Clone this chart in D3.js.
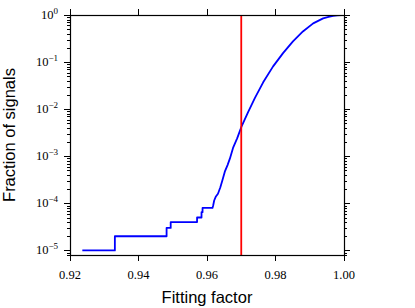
<!DOCTYPE html>
<html>
<head>
  <meta charset="UTF-8">
  <title>Fitting factor</title>
  <script src="https://cdn.jsdelivr.net/npm/d3@7"></script>
  <style>
    body { margin: 0; background: #fff; }
    .tick-label { font-family: "Liberation Serif", "DejaVu Serif", serif; }
    .axis-label { font-family: "Liberation Sans", Arial, sans-serif; font-size: 16.5px; }
  </style>
</head>
<body>
<div id="chart"></div>
<script>
// cumulative fraction of signals vs fitting factor
var fitFactor = [0.9236, 0.9331, 0.9331, 0.9482, 0.9482, 0.9494, 0.9494, 0.9571, 0.9571,
  0.9584, 0.9584, 0.9587, 0.9587, 0.9616, 0.9618, 0.9621, 0.9626, 0.9632, 0.9639, 0.9645,
  0.9652, 0.9660, 0.9667, 0.9676, 0.9688, 0.9701, 0.9720, 0.9740, 0.9764, 0.9793, 0.9822,
  0.9851, 0.9880, 0.9910, 0.9939, 0.9955, 0.9968, 0.9980, 0.9992, 1.0000];
var fraction = [1e-5, 1e-5, 2e-5, 2e-5, 3e-5, 3e-5, 4e-5, 4e-5, 5e-5,
  5e-5, 6.5e-5, 6.5e-5, 8e-5, 8e-5, 9e-5, 1.15e-4, 1.4e-4, 1.6e-4, 2.2e-4, 3.1e-4,
  4.7e-4, 6.5e-4, 9e-4, 1.5e-3, 2.4e-3, 4.3e-3, 8.7e-3, 1.74e-2, 3.72e-2, 8.1e-2, 0.155,
  0.275, 0.447, 0.665, 0.85, 0.91, 0.955, 0.982, 1.0, 1.0];
var threshold = 0.97;
var xTicks = [0.92, 0.94, 0.96, 0.98, 1.00];
var yTicks = [1e-5, 1e-4, 1e-3, 1e-2, 1e-1, 1];

var W = 415, H = 308;
var pLeft = 70, pRight = 344, pTop = 15, pBottom = 255;

var svg = d3.select("#chart").append("svg")
  .attr("width", W).attr("height", H);

var x = d3.scaleLinear().domain([0.92, 1.0]).range([pLeft, pRight]);
var y = d3.scaleLog().domain([8e-6, 1]).range([pBottom, pTop]);

svg.append("clipPath").attr("id", "clip")
  .append("rect").attr("x", pLeft).attr("y", pTop)
  .attr("width", pRight - pLeft).attr("height", pBottom - pTop);

var minor = y.ticks().filter(function(d) {
  var e = Math.log10(d);
  return Math.abs(e - Math.round(e)) > 1e-6;
});

// ticks on all four sides, pointing out
var g = svg.append("g").attr("stroke", "#000").attr("stroke-width", 1);
xTicks.forEach(function(t) {
  var px = Math.round(x(t)) + 0.5;
  g.append("line").attr("x1", px).attr("x2", px).attr("y1", pBottom).attr("y2", pBottom + 6);
  g.append("line").attr("x1", px).attr("x2", px).attr("y1", pTop).attr("y2", pTop - 6);
});
yTicks.forEach(function(t) {
  var py = Math.round(y(t)) + 0.5;
  g.append("line").attr("x1", pLeft).attr("x2", pLeft - 6).attr("y1", py).attr("y2", py);
  g.append("line").attr("x1", pRight).attr("x2", pRight + 6).attr("y1", py).attr("y2", py);
});
minor.forEach(function(t) {
  var py = Math.round(y(t)) + 0.5;
  g.append("line").attr("x1", pLeft).attr("x2", pLeft - 3).attr("y1", py).attr("y2", py);
  g.append("line").attr("x1", pRight).attr("x2", pRight + 3).attr("y1", py).attr("y2", py);
});

// data
var line = d3.line()
  .x(function(d, i) { return x(fitFactor[i]); })
  .y(function(d, i) { return y(fraction[i]); });

var plot = svg.append("g").attr("clip-path", "url(#clip)");
plot.append("path")
  .attr("d", line(fitFactor))
  .attr("fill", "none")
  .attr("stroke", "#0000ff")
  .attr("stroke-width", 1.8)
  .attr("stroke-linejoin", "round");

plot.append("line")
  .attr("x1", x(threshold)).attr("x2", x(threshold))
  .attr("y1", pTop).attr("y2", pBottom)
  .attr("stroke", "#ff0000")
  .attr("stroke-width", 1.8);

// frame
svg.append("rect")
  .attr("x", pLeft + 0.5).attr("y", pTop + 0.5)
  .attr("width", pRight - pLeft).attr("height", pBottom - pTop)
  .attr("fill", "none").attr("stroke", "#000").attr("stroke-width", 1.2);

// tick labels
xTicks.forEach(function(t) {
  svg.append("text").attr("class", "tick-label")
    .attr("x", x(t)).attr("y", 279)
    .attr("text-anchor", "middle")
    .style("font-size", "12.5px")
    .text(d3.format(".2f")(t));
});
yTicks.forEach(function(t) {
  var e = Math.round(Math.log10(t));
  var txt = svg.append("text").attr("class", "tick-label")
    .attr("x", 58).attr("y", y(t) + 4)
    .attr("text-anchor", "end")
    .style("font-size", "12.5px");
  txt.append("tspan").text("10");
  txt.append("tspan")
    .attr("dy", -5)
    .style("font-size", "9px")
    .text(e === 0 ? "0" : "\u2212" + Math.abs(e));
});

// axis labels
svg.append("text").attr("class", "axis-label")
  .attr("x", (pLeft + pRight) / 2).attr("y", 303)
  .attr("text-anchor", "middle")
  .text("Fitting factor");

svg.append("text").attr("class", "axis-label")
  .attr("transform", "translate(15," + ((pTop + pBottom) / 2) + ") rotate(-90)")
  .attr("text-anchor", "middle")
  .text("Fraction of signals");
</script>
</body>
</html>
